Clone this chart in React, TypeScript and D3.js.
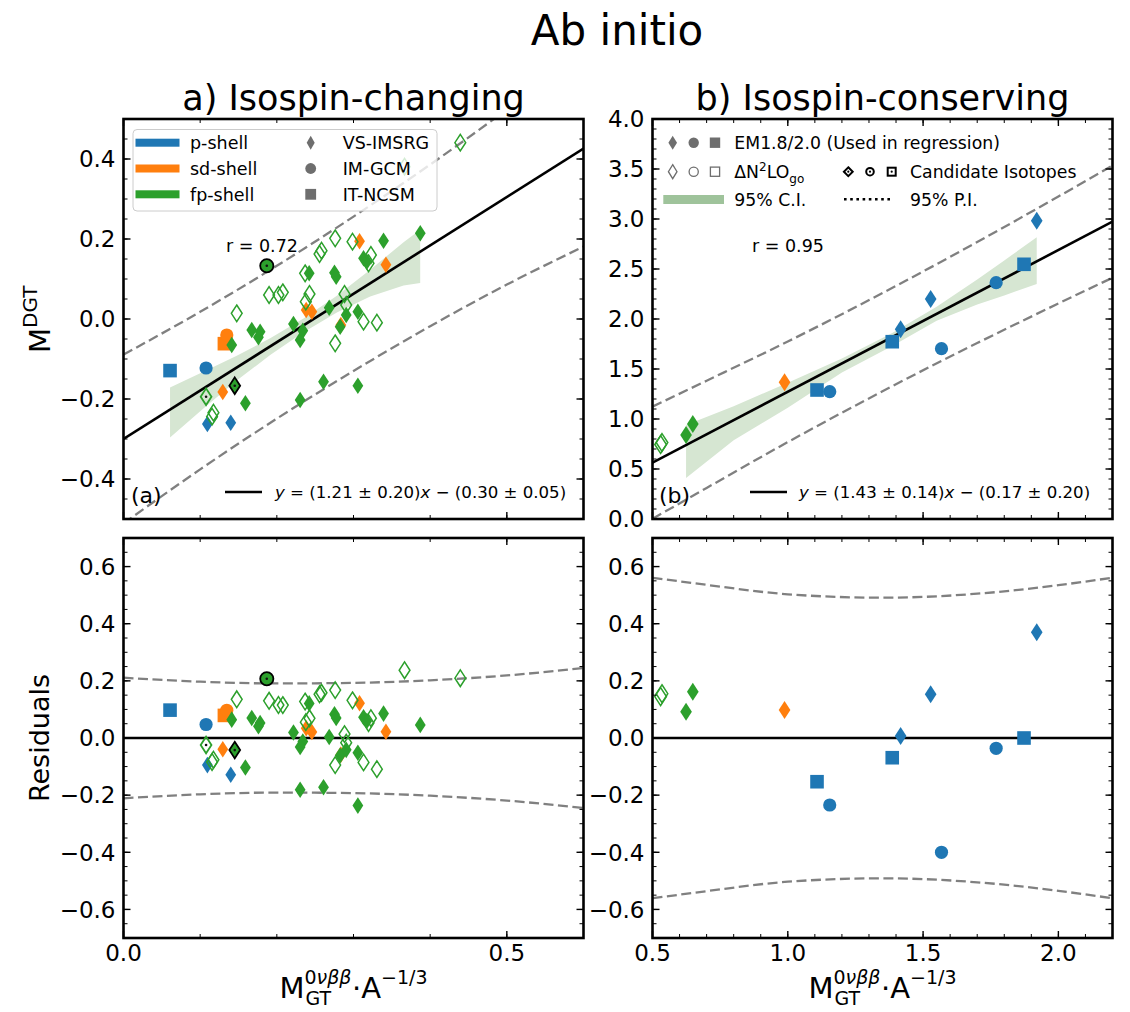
import React from "react";
import * as d3 from "d3";

const FONT = "DejaVu Sans, Liberation Sans, sans-serif";
const BLUE = "#1f77b4";
const ORANGE = "#ff7f0e";
const GREEN = "#2ca02c";
const PI_GRAY = "#808080";
const LEG_GRAY = "#6e6e6e";

// ---------- panel (a) isospin-changing : [x, M_DGT, marker]  d=VS-IMSRG o=IM-GCM s=IT-NCSM
const pShellA = [
  [0.0607, -0.129, "s"],
  [0.1077, -0.1225, "o"],
  [0.1094, -0.2625, "d"],
  [0.1399, -0.2592, "d"],
];
const sdShellA = [
  [0.1316, -0.0617, "s"],
  [0.1347, -0.04, "o"],
  [0.1295, -0.1825, "d"],
  [0.2383, 0.0225, "d"],
  [0.2457, 0.0183, "d"],
  [0.2835, -0.015, "d"],
  [0.3079, 0.1942, "d"],
  [0.3423, 0.1358, "d"],
];
// fp-shell, EM1.8/2.0 (filled)
const fpEmA = [
  [0.1412, -0.065], [0.159, -0.2108], [0.1673, -0.0275], [0.1782, -0.0317],
  [0.176, -0.0458], [0.2217, -0.0125], [0.2339, -0.0292], [0.2304, -0.0525],
  [0.2304, -0.2025], [0.2422, 0.1142], [0.2752, 0.1158], [0.2774, 0.1058],
  [0.2609, -0.1567], [0.2683, 0.0283], [0.2826, -0.0192], [0.2905, 0.01],
  [0.3057, -0.1667], [0.3057, 0.0183], [0.3131, 0.1517], [0.3174, 0.1433],
  [0.3392, 0.1958], [0.3871, 0.2142],
];
// fp-shell, ΔN2LO_go (open)
const fpGoA = [
  [0.1173, -0.2342], [0.1155, -0.2442], [0.1477, 0.0142], [0.1899, 0.06],
  [0.2021, 0.06], [0.2078, 0.0667], [0.2369, 0.1142], [0.2378, 0.0433],
  [0.2426, 0.0625], [0.2557, 0.1625], [0.2583, 0.1708], [0.2761, 0.2017],
  [0.2987, 0.1933], [0.3196, 0.1392], [0.3227, 0.16], [0.2883, 0.0625],
  [0.2905, 0.035], [0.2761, -0.0608], [0.3131, -0.0067], [0.3305, -0.0092],
  [0.3666, 0.3808], [0.4393, 0.4408],
];
// candidate isotopes (fp-shell): [x, y, marker, open?]
const candA = [
  [0.1077, -0.1942, "d", true],
  [0.1451, -0.1667, "d", false],
  [0.1869, 0.1333, "o", false],
];
const fitA = { slope: 1.21, intercept: -0.3 };
const ciXA = [0.0607, 0.1042, 0.1477, 0.1913, 0.2348, 0.2783, 0.3218, 0.3653, 0.387];
const ciHiA = [-0.171, -0.132, -0.092, -0.048, 0.001, 0.058, 0.123, 0.192, 0.223];
const ciLoA = [-0.296, -0.224, -0.154, -0.09, -0.033, 0.016, 0.056, 0.084, 0.09];
const piXA = [0, 0.1, 0.2, 0.3, 0.4, 0.5, 0.6];
const piHalfA = [0.211, 0.197, 0.191, 0.193, 0.202, 0.219, 0.245];

// ---------- panel (b) isospin-conserving
const pShellB = [
  [1.108, 1.29, "s"], [1.155, 1.273, "o"], [1.386, 1.773, "s"], [1.417, 1.897, "d"],
  [1.528, 2.2, "d"], [1.568, 1.703, "o"], [1.77, 2.363, "o"], [1.873, 2.547, "s"],
  [1.92, 2.983, "d"],
];
const pResB = [-0.153, -0.2345, -0.069, 0.007, 0.153, -0.4, -0.036, 0.0, 0.37];
const sdShellB = [[0.988, 1.367, "d"]];
const sdResB = [0.098];
const fpEmB = [[0.624, 0.84], [0.649, 0.95]];
const fpEmResB = [0.092, 0.162];
const fpGoB = [[0.53, 0.745], [0.535, 0.765]];
const fpGoResB = [0.145, 0.155];
const fitB = { slope: 1.418, intercept: -0.146 };
const ciXB = [0.624, 0.8, 1.0, 1.2, 1.386, 1.55, 1.7, 1.8, 1.92];
const ciHiB = [0.939, 1.128, 1.362, 1.606, 1.859, 2.122, 2.395, 2.586, 2.817];
const ciLoB = [0.409, 0.788, 1.112, 1.466, 1.729, 1.982, 2.145, 2.236, 2.35];
const piXB = [0.5, 0.7, 1.0, 1.35, 1.7, 2.0, 2.2];
const piHalfB = [0.561, 0.536, 0.503, 0.491, 0.505, 0.535, 0.561];

// ---------- layout
const LX = [123.5, 583.5];
const RX = [652.5, 1112.5];
const TY = [119, 519];
const BY = [538, 938];

const ticksBy = (a: number, b: number, step: number) =>
  d3.range(Math.round(a / step), Math.round(b / step) + 1).map((i) => +(i * step).toFixed(6));

const fmt1 = d3.format(".1f");

const diamond = (cx: number, cy: number, w: number, h: number) =>
  `M${cx},${cy - h}L${cx + w},${cy}L${cx},${cy + h}L${cx - w},${cy}Z`;

function Mark({ m, cx, cy, color, open = false, cand = false, big = false }: any) {
  const fill = open ? "none" : color;
  const stroke = cand && !open ? "#000" : color;
  const sw = cand ? 1.8 : open ? 1.5 : 0;
  const k = big ? 1.08 : 1;
  let shape;
  if (m === "d") shape = <path d={diamond(cx, cy, 5.4 * k, 8.3 * k)} fill={fill} stroke={stroke} strokeWidth={sw} />;
  else if (m === "o") shape = <circle cx={cx} cy={cy} r={6.6} fill={fill} stroke={stroke} strokeWidth={sw} />;
  else shape = <rect x={cx - 6.8} y={cy - 6.8} width={13.6} height={13.6} fill={fill} stroke={stroke} strokeWidth={sw} />;
  return (
    <g>
      {shape}
      {cand && <circle cx={cx} cy={cy} r={1.3} fill="#111" />}
    </g>
  );
}

function Frame({ x, y, sx, sy, xMaj, xMin, yMaj, yMin, xLabels }: any) {
  const [x0, x1] = x;
  const [y0, y1] = y;
  const tick = (key: string, a: number, b: number, c: number, d: number, w: number) => (
    <line key={key} x1={a} y1={b} x2={c} y2={d} stroke="#000" strokeWidth={w} />
  );
  return (
    <g>
      {xMin.map((v: number) => (
        <g key={"xm" + v}>
          {tick("a", sx(v), y1, sx(v), y1 - 4, 1)}
          {tick("b", sx(v), y0, sx(v), y0 + 4, 1)}
        </g>
      ))}
      {xMaj.map((v: number) => (
        <g key={"xM" + v}>
          {tick("a", sx(v), y1, sx(v), y1 - 7, 1.4)}
          {tick("b", sx(v), y0, sx(v), y0 + 7, 1.4)}
          {xLabels && (
            <text x={sx(v)} y={y1 + 23} textAnchor="middle" fontSize={23} fontFamily={FONT}>
              {fmt1(v)}
            </text>
          )}
        </g>
      ))}
      {yMin.map((v: number) => (
        <g key={"ym" + v}>
          {tick("a", x0, sy(v), x0 + 4, sy(v), 1)}
          {tick("b", x1, sy(v), x1 - 4, sy(v), 1)}
        </g>
      ))}
      {yMaj.map((v: number) => (
        <g key={"yM" + v}>
          {tick("a", x0, sy(v), x0 + 7, sy(v), 1.4)}
          {tick("b", x1, sy(v), x1 - 7, sy(v), 1.4)}
          <text x={x0 - 8} y={sy(v)} dy="0.36em" textAnchor="end" fontSize={23} fontFamily={FONT}>
            {fmt1(v)}
          </text>
        </g>
      ))}
      <rect x={x0} y={y0} width={x1 - x0} height={y1 - y0} fill="none" stroke="#000" strokeWidth={2.6} />
    </g>
  );
}

function XLabel({ cx, y }: any) {
  const f = 29;
  const s = 19;
  const wM = 0.863 * f;
  const wSup = 2.5 * s;
  const wA = 1.002 * f;
  const wExp = 2.45 * s;
  const x0 = cx - (wM + wSup + wA + wExp) / 2;
  return (
    <g fontFamily={FONT}>
      <text x={x0} y={y} fontSize={f}>M</text>
      <text x={x0 + wM} y={y - 14} fontSize={s}>
        0<tspan fontStyle="italic">νββ</tspan>
      </text>
      <text x={x0 + wM + 1} y={y + 7} fontSize={s}>GT</text>
      <text x={x0 + wM + wSup} y={y} fontSize={f}>·A</text>
      <text x={x0 + wM + wSup + wA} y={y - 14} fontSize={s}>−1/3</text>
    </g>
  );
}

function Equation({ x, y, body }: any) {
  return (
    <text x={x} y={y} fontSize={16.6}>
      <tspan fontStyle="italic">y</tspan>
      {" = " + body[0]}
      <tspan fontStyle="italic">x</tspan>
      {" − " + body[1]}
    </text>
  );
}

export default function App() {
  const xA = d3.scaleLinear().domain([0, 0.6]).range(LX);
  const xB = d3.scaleLinear().domain([0.5, 2.2]).range(RX);
  const yA = d3.scaleLinear().domain([-0.5, 0.5]).range([TY[1], TY[0]]);
  const yB = d3.scaleLinear().domain([0, 4]).range([TY[1], TY[0]]);
  const rA = d3.scaleLinear().domain([-0.7, 0.7]).range([BY[1], BY[0]]);
  const rB = d3.scaleLinear().domain([-0.7, 0.7]).range([BY[1], BY[0]]);

  const fA = (x: number) => fitA.slope * x + fitA.intercept;
  const fB = (x: number) => fitB.slope * x + fitB.intercept;
  const resA = (p: any) => p[1] - fA(p[0]);

  const ciArea = (sx: any, sy: any, xs: number[], lo: number[], hi: number[]) =>
    d3.area<number>().x((i) => sx(xs[i])).y0((i) => sy(lo[i])).y1((i) => sy(hi[i]))(d3.range(xs.length));

  const band = (sx: any, sy: any, xs: number[], hw: number[], f: (x: number) => number, sign: number) =>
    d3.line<number>().curve(d3.curveMonotoneX).x((i) => sx(xs[i])).y((i) => sy(f(xs[i]) + sign * hw[i]))(d3.range(xs.length));

  const dash = { fill: "none", stroke: PI_GRAY, strokeWidth: 2.3, strokeDasharray: "10,4.5" };

  const drawA = (sy: any, yv: (p: any) => number) => (
    <g>
      {pShellA.map((p, i) => <Mark key={"pa" + i} m={p[2]} cx={xA(p[0] as number)} cy={sy(yv(p))} color={BLUE} />)}
      {sdShellA.map((p, i) => <Mark key={"sa" + i} m={p[2]} cx={xA(p[0] as number)} cy={sy(yv(p))} color={ORANGE} />)}
      {fpEmA.map((p, i) => <Mark key={"fa" + i} m="d" cx={xA(p[0])} cy={sy(yv(p))} color={GREEN} />)}
      {fpGoA.map((p, i) => <Mark key={"ga" + i} m="d" open cx={xA(p[0])} cy={sy(yv(p))} color={GREEN} />)}
      {candA.map((p, i) => (
        <Mark key={"ca" + i} m={p[2]} open={p[3]} cand cx={xA(p[0] as number)} cy={sy(yv(p))} color={GREEN} />
      ))}
    </g>
  );

  const drawB = (sy: any, useRes: boolean) => (
    <g>
      {pShellB.map((p, i) => (
        <Mark key={"pb" + i} big m={p[2]} cx={xB(p[0] as number)} cy={sy(useRes ? pResB[i] : (p[1] as number))} color={BLUE} />
      ))}
      {sdShellB.map((p, i) => (
        <Mark key={"sb" + i} big m={p[2]} cx={xB(p[0] as number)} cy={sy(useRes ? sdResB[i] : (p[1] as number))} color={ORANGE} />
      ))}
      {fpEmB.map((p, i) => (
        <Mark key={"fb" + i} big m="d" cx={xB(p[0])} cy={sy(useRes ? fpEmResB[i] : p[1])} color={GREEN} />
      ))}
      {fpGoB.map((p, i) => (
        <Mark key={"gb" + i} big m="d" open cx={xB(p[0])} cy={sy(useRes ? fpGoResB[i] : p[1])} color={GREEN} />
      ))}
    </g>
  );

  const clip = (id: string, x: number[], y: number[]) => (
    <clipPath id={id}>
      <rect x={x[0]} y={y[0]} width={x[1] - x[0]} height={y[1] - y[0]} />
    </clipPath>
  );

  const legMarkers = (x: number[], y: number, open: boolean) => (
    <g>
      <path d={diamond(x[0], y, 4.3, 7)} fill={open ? "none" : LEG_GRAY} stroke={LEG_GRAY} strokeWidth={open ? 1.3 : 0} />
      <circle cx={x[1]} cy={y} r={open ? 4.6 : 5.2} fill={open ? "none" : LEG_GRAY} stroke={LEG_GRAY} strokeWidth={open ? 1.3 : 0} />
      <rect x={x[2] - (open ? 4.6 : 5.2)} y={y - (open ? 4.6 : 5.2)} width={open ? 9.2 : 10.4} height={open ? 9.2 : 10.4}
        fill={open ? "none" : LEG_GRAY} stroke={LEG_GRAY} strokeWidth={open ? 1.3 : 0} />
    </g>
  );

  return (
    <svg width={1130} height={1012} style={{ position: "absolute", left: 0, top: 0, background: "#fff" }} fontFamily={FONT}>
      <defs>
        {clip("cA", LX, TY)}
        {clip("cB", RX, TY)}
        {clip("cRA", LX, BY)}
        {clip("cRB", RX, BY)}
      </defs>

      <text x={617} y={45} textAnchor="middle" fontSize={42}>Ab initio</text>
      <text x={353.5} y={110} textAnchor="middle" fontSize={35}>a) Isospin-changing</text>
      <text x={882.5} y={110} textAnchor="middle" fontSize={35}>b) Isospin-conserving</text>

      {/* ---------- top left */}
      <g clipPath="url(#cA)">
        <path d={ciArea(xA, yA, ciXA, ciLoA, ciHiA) || ""} fill="#d6e6d2" />
        <path d={band(xA, yA, piXA, piHalfA, fA, 1) || ""} {...dash} />
        <path d={band(xA, yA, piXA, piHalfA, fA, -1) || ""} {...dash} />
        <line x1={xA(0)} y1={yA(fA(0))} x2={xA(0.6)} y2={yA(fA(0.6))} stroke="#000" strokeWidth={2.6} />
        {drawA(yA, (p: any) => p[1])}
      </g>
      <Frame x={LX} y={TY} sx={xA} sy={yA} xMaj={[0, 0.5]} xMin={ticksBy(0, 0.6, 0.1)}
        yMaj={ticksBy(-0.4, 0.4, 0.2)} yMin={ticksBy(-0.5, 0.5, 0.05)} xLabels={false} />
      <text x={226} y={252} fontSize={17.5}>r = 0.72</text>
      <text x={131} y={503} fontSize={22}>(a)</text>
      <line x1={225} x2={262} y1={492} y2={492} stroke="#000" strokeWidth={2.6} />
      <Equation x={275} y={498} body={["(1.21 ± 0.20)", "(0.30 ± 0.05)"]} />
      {/* legend a */}
      <rect x={133} y={129.5} width={304} height={81.5} rx={4} fill="#fff" fillOpacity={0.8} stroke="#cccccc" strokeWidth={1} />
      {[["p-shell", BLUE], ["sd-shell", ORANGE], ["fp-shell", GREEN]].map((d, i) => (
        <g key={d[0]}>
          <rect x={135.5} y={142.7 + i * 25.8 - 4} width={44} height={8} fill={d[1]} />
          <text x={190} y={142.7 + i * 25.8} dy="0.36em" fontSize={17.5}>{d[0]}</text>
        </g>
      ))}
      <path d={diamond(310.7, 142.7, 4, 7)} fill={LEG_GRAY} />
      <circle cx={310.7} cy={168.5} r={5.4} fill={LEG_GRAY} />
      <rect x={305.3} y={188.9} width={10.8} height={10.8} fill={LEG_GRAY} />
      {["VS-IMSRG", "IM-GCM", "IT-NCSM"].map((t, i) => (
        <text key={t} x={342.7} y={142.7 + i * 25.8} dy="0.36em" fontSize={17.5}>{t}</text>
      ))}

      {/* ---------- top right */}
      <g clipPath="url(#cB)">
        <path d={ciArea(xB, yB, ciXB, ciLoB, ciHiB) || ""} fill="#d6e6d2" />
        <path d={band(xB, yB, piXB, piHalfB, fB, 1) || ""} {...dash} />
        <path d={band(xB, yB, piXB, piHalfB, fB, -1) || ""} {...dash} />
        <line x1={xB(0.5)} y1={yB(fB(0.5))} x2={xB(2.2)} y2={yB(fB(2.2))} stroke="#000" strokeWidth={2.6} />
        {drawB(yB, false)}
      </g>
      <Frame x={RX} y={TY} sx={xB} sy={yB} xMaj={ticksBy(0.5, 2.0, 0.5)} xMin={ticksBy(0.5, 2.2, 0.1)}
        yMaj={ticksBy(0, 4, 0.5)} yMin={ticksBy(0, 4, 0.1)} xLabels={false} />
      <text x={752} y={252} fontSize={17.5}>r = 0.95</text>
      <text x={659} y={503} fontSize={22}>(b)</text>
      <line x1={750} x2={787} y1={492} y2={492} stroke="#000" strokeWidth={2.6} />
      <Equation x={799} y={498} body={["(1.43 ± 0.14)", "(0.17 ± 0.20)"]} />
      {/* legend b */}
      {legMarkers([672.7, 693.7, 715], 142.7, false)}
      <text x={734.3} y={142.7} dy="0.36em" fontSize={17.3}>EM1.8/2.0 (Used in regression)</text>
      {legMarkers([672.7, 693.7, 715], 171.7, true)}
      <text x={734.3} y={171.7} dy="0.36em" fontSize={17.3}>
        ΔN<tspan dy={-7} fontSize={12}>2</tspan>
        <tspan dy={7}>LO</tspan>
        <tspan dy={5} fontSize={12}>go</tspan>
      </text>
      <path d={diamond(848.3, 171.7, 4.4, 4.4)} fill="#fff" stroke="#000" strokeWidth={2} />
      <circle cx={848.3} cy={171.7} r={1.1} fill="#000" />
      <circle cx={870} cy={171.7} r={3.8} fill="#fff" stroke="#000" strokeWidth={2} />
      <circle cx={870} cy={171.7} r={1.1} fill="#000" />
      <rect x={887.7} y={167.7} width={8} height={8} fill="#fff" stroke="#000" strokeWidth={2} />
      <circle cx={891.7} cy={171.7} r={1.1} fill="#000" />
      <text x={910} y={171.7} dy="0.36em" fontSize={17.3}>Candidate Isotopes</text>
      <rect x={663.3} y={195} width={60.7} height={9} fill="#9fc39b" />
      <text x={734.3} y={199.3} dy="0.36em" fontSize={17.3}>95% C.I.</text>
      <line x1={844} x2={892} y1={199.3} y2={199.3} stroke="#000" strokeWidth={2.6} strokeDasharray="2.6,3.6" />
      <text x={910} y={199.3} dy="0.36em" fontSize={17.3}>95% P.I.</text>

      {/* ---------- bottom left residuals */}
      <g clipPath="url(#cRA)">
        <path d={band(xA, rA, piXA, piHalfA, () => 0, 1) || ""} {...dash} />
        <path d={band(xA, rA, piXA, piHalfA, () => 0, -1) || ""} {...dash} />
        <line x1={LX[0]} x2={LX[1]} y1={rA(0)} y2={rA(0)} stroke="#000" strokeWidth={2.3} />
        {drawA(rA, resA)}
      </g>
      <Frame x={LX} y={BY} sx={xA} sy={rA} xMaj={[0, 0.5]} xMin={ticksBy(0, 0.6, 0.1)}
        yMaj={ticksBy(-0.6, 0.6, 0.2)} yMin={ticksBy(-0.7, 0.7, 0.05)} xLabels />

      {/* ---------- bottom right residuals */}
      <g clipPath="url(#cRB)">
        <path d={band(xB, rB, piXB, piHalfB, () => 0, 1) || ""} {...dash} />
        <path d={band(xB, rB, piXB, piHalfB, () => 0, -1) || ""} {...dash} />
        <line x1={RX[0]} x2={RX[1]} y1={rB(0)} y2={rB(0)} stroke="#000" strokeWidth={2.3} />
        {drawB(rB, true)}
      </g>
      <Frame x={RX} y={BY} sx={xB} sy={rB} xMaj={ticksBy(0.5, 2.0, 0.5)} xMin={ticksBy(0.5, 2.2, 0.1)}
        yMaj={ticksBy(-0.6, 0.6, 0.2)} yMin={ticksBy(-0.7, 0.7, 0.05)} xLabels />

      {/* axis titles */}
      <g transform="translate(50,319) rotate(-90)">
        <text x={-34} y={0} fontSize={29}>
          M<tspan dy={-13} fontSize={20}>DGT</tspan>
        </text>
      </g>
      <text transform="translate(49,738) rotate(-90)" textAnchor="middle" fontSize={27}>Residuals</text>
      <XLabel cx={353.5} y={998} />
      <XLabel cx={882.5} y={998} />
    </svg>
  );
}
